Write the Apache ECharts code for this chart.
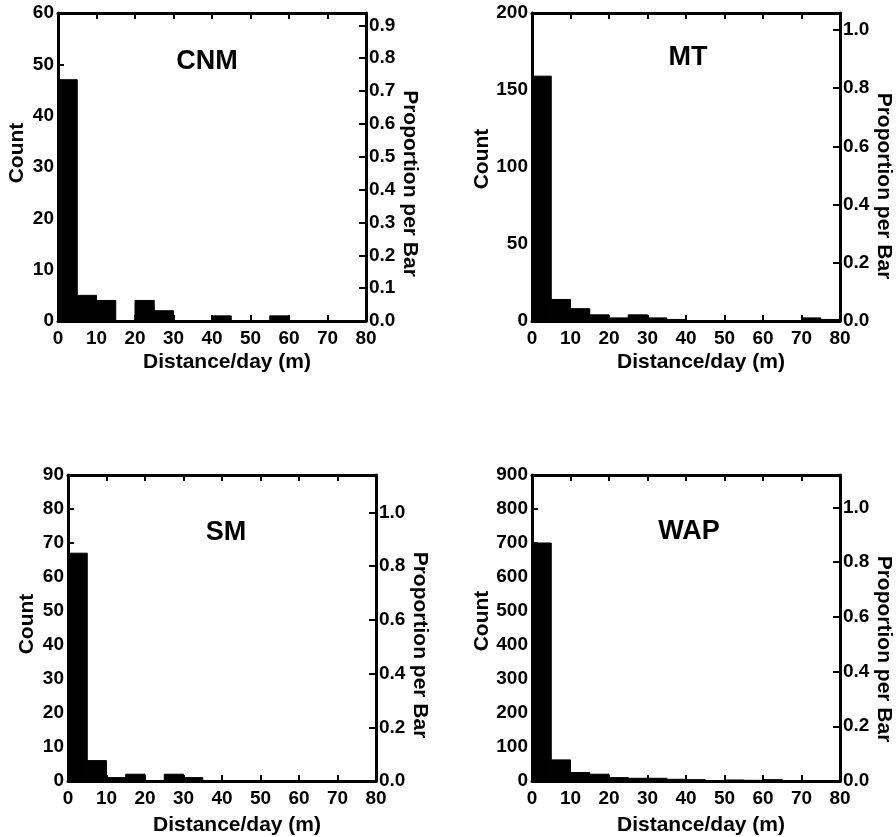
<!DOCTYPE html>
<html>
<head>
<meta charset="utf-8">
<script src="https://cdn.jsdelivr.net/npm/echarts@6/dist/echarts.min.js"></script>
<style>
html,body{margin:0;padding:0;background:#fff;}
#chart{width:896px;height:837px;}
</style>
</head>
<body>
<div id="chart"></div>
<script>
// ---- data ----
const binStarts = [0, 5, 10, 15, 20, 25, 30, 35, 40, 45, 50, 55, 60, 65, 70, 75];
const binWidth = 5;
const panelNames = ['CNM', 'MT', 'SM', 'WAP'];
const cnmCounts = [47, 5, 4, 0, 4, 2, 0, 0, 1, 0, 0, 1, 0, 0, 0, 0];
const mtCounts  = [159, 14, 8, 4, 2, 4, 2, 1, 0, 0, 0, 0, 0, 0, 2, 1];
const smCounts  = [67, 6, 1, 2, 0, 2, 1, 0, 0, 0, 0, 0, 0, 0, 0, 0];
const wapCounts = [700, 62, 25, 20, 10, 8, 8, 5, 4, 1, 3, 2, 4, 1, 1, 1];
const countMax = [60, 200, 90, 900];
const countStep = [10, 50, 10, 100];
const sampleTotals = [64, 189, 79, 805];   // N used for "Proportion per Bar"
const propStep = [0.1, 0.2, 0.2, 0.2];
const xMin = 0, xMax = 80, xStep = 10;
const xTitle = 'Distance/day (m)';
const yTitle = 'Count';
const y2Title = 'Proportion per Bar';

const allCounts = [cnmCounts, mtCounts, smCounts, wapCounts];

// ---- layout ----
const FONT = "'Liberation Sans', Arial, Helvetica, sans-serif";
const grids = [
  {left: 58, top: 13, width: 308, height: 308},
  {left: 532, top: 13, width: 308, height: 308},
  {left: 68, top: 475, width: 308, height: 308},
  {left: 532, top: 475, width: 308, height: 308}
];
const titlePos = [[207, 62], [688, 58], [226, 533], [689, 532]];
const yNameGap = [30, 38, 30, 38];
const yNameShift = [28, 16, 8, 14];
const y2NameGap = [30, 33, 28, 33];
const y2NameShift = [33, 38, 34, 42];
const xNameGap = [31, 31, 34, 34];

const lineStyle = {color: '#000', width: 3};
const labelBase = {color: '#000', fontFamily: FONT, fontWeight: 'bold', fontSize: 19};
const nameBase = {color: '#000', fontFamily: FONT, fontWeight: 'bold', fontSize: 21};

const option = {
  backgroundColor: '#fff',
  animation: false,
  grid: grids.map(g => Object.assign({containLabel: false}, g)),
  xAxis: [],
  yAxis: [],
  series: [],
  graphic: []
};

allCounts.forEach((counts, i) => {
  // bottom x axis
  option.xAxis.push({
    type: 'value', gridIndex: i, position: 'bottom',
    min: xMin, max: xMax, interval: xStep,
    name: xTitle, nameLocation: 'middle', nameGap: xNameGap[i],
    nameTextStyle: Object.assign({padding: [0, 0, 0, 30]}, nameBase),
    axisLine: {show: true, onZero: false, lineStyle: lineStyle},
    axisTick: {show: true, inside: true, length: 6, lineStyle: {color: '#000', width: 2}},
    axisLabel: Object.assign({margin: 8}, labelBase),
    splitLine: {show: false}
  });
  // top x axis (frame + ticks)
  option.xAxis.push({
    type: 'value', gridIndex: i, position: 'top',
    min: xMin, max: xMax, interval: xStep,
    axisLine: {show: true, onZero: false, lineStyle: lineStyle},
    axisTick: {show: true, inside: true, length: 6, lineStyle: {color: '#000', width: 2}},
    axisLabel: {show: false},
    splitLine: {show: false}
  });
  // left count axis
  option.yAxis.push({
    type: 'value', gridIndex: i, position: 'left',
    min: 0, max: countMax[i], interval: countStep[i],
    name: yTitle, nameLocation: 'middle', nameGap: yNameGap[i], nameRotate: 90,
    nameTextStyle: Object.assign({padding: [0, 0, 0, yNameShift[i]]}, nameBase),
    axisLine: {show: true, onZero: false, lineStyle: lineStyle},
    axisTick: {show: true, inside: true, length: 6, lineStyle: {color: '#000', width: 2}},
    axisLabel: Object.assign({margin: 4}, labelBase),
    splitLine: {show: false}
  });
  // right proportion axis
  const pMax = countMax[i] / sampleTotals[i];
  const step = propStep[i];
  option.yAxis.push({
    type: 'value', gridIndex: i, position: 'right',
    min: 0, max: pMax, interval: step,
    name: y2Title, nameLocation: 'middle', nameGap: y2NameGap[i], nameRotate: -90,
    nameTextStyle: Object.assign({padding: [0, 0, 0, y2NameShift[i]]}, nameBase),
    axisLine: {show: true, onZero: false, lineStyle: lineStyle},
    axisTick: {show: true, inside: true, length: 7, lineStyle: {color: '#000', width: 2}},
    axisLabel: Object.assign({
      margin: 3, showMaxLabel: false,
      formatter: v => {
        const k = Math.round(v / step);
        return Math.abs(k * step - v) < 1e-6 ? v.toFixed(1) : '';
      }
    }, labelBase),
    splitLine: {show: false}
  });

  const data = binStarts.map((s, j) => [s, s + binWidth, counts[j]]).filter(d => d[2] > 0);
  option.series.push({
    type: 'custom',
    xAxisIndex: i * 2, yAxisIndex: i * 2,
    data: data,
    encode: {x: [0, 1], y: 2},
    clip: true,
    renderItem: (params, api) => {
      const p0 = api.coord([api.value(0), api.value(2)]);
      const p1 = api.coord([api.value(1), 0]);
      return {
        type: 'rect',
        shape: {x: p0[0], y: p0[1], width: p1[0] - p0[0], height: p1[1] - p0[1]},
        style: {fill: '#000', stroke: '#000', lineWidth: 1}
      };
    }
  });

  option.graphic.push({
    type: 'text', x: titlePos[i][0], y: titlePos[i][1],
    style: {
      text: panelNames[i], fill: '#000',
      font: "bold 27px " + FONT,
      align: 'center', verticalAlign: 'middle',
      textAlign: 'center', textVerticalAlign: 'middle'
    }
  });
});

const chart = echarts.init(document.getElementById('chart'), null, {renderer: 'canvas'});
chart.setOption(option);
</script>
</body>
</html>
